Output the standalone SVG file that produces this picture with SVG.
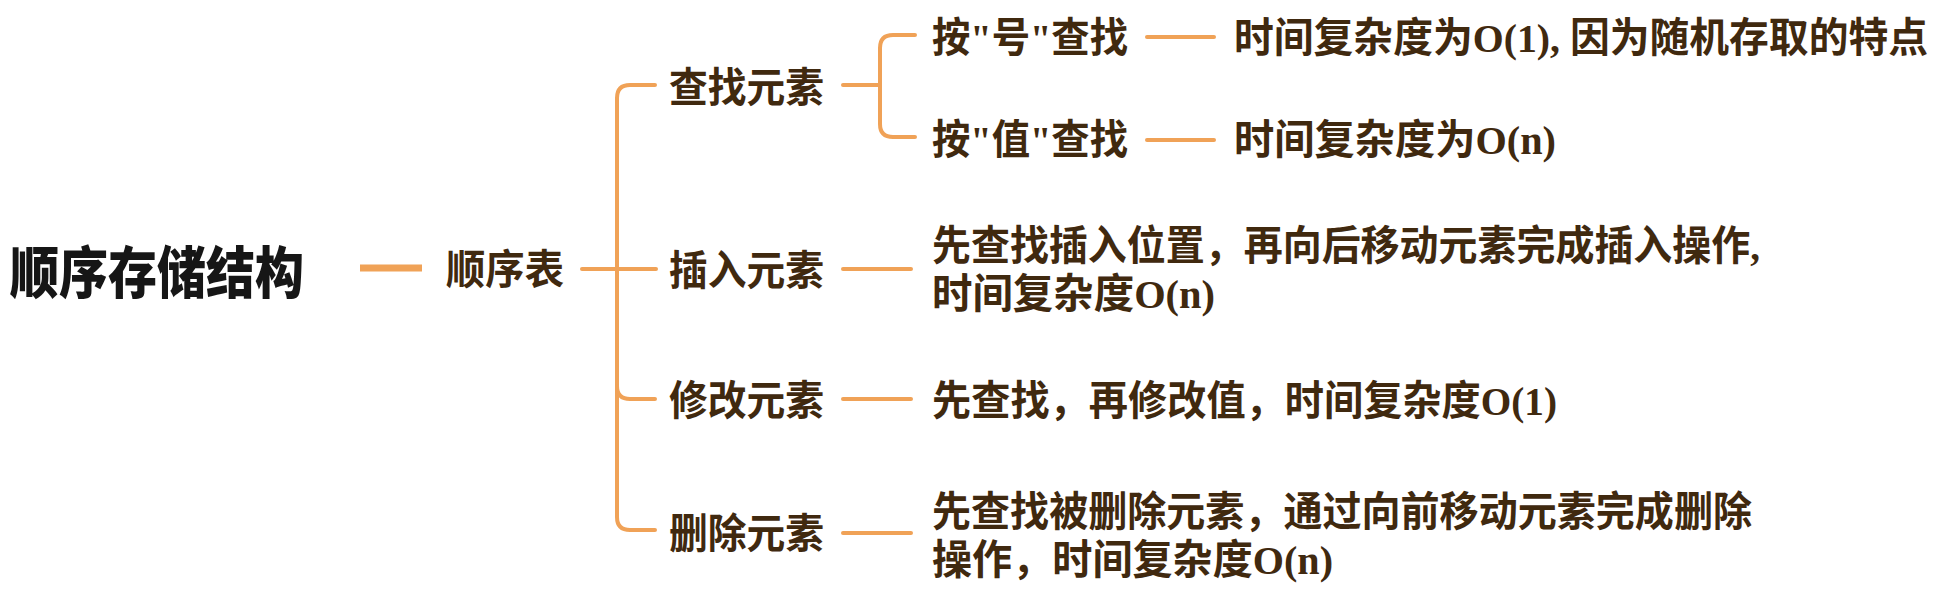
<svg xmlns="http://www.w3.org/2000/svg" width="1944" height="594" viewBox="0 0 1944 594">
<style>
.ln{fill:none;stroke:#F0A257;stroke-width:4;stroke-linecap:round;stroke-linejoin:round}
.thick{stroke-width:7;stroke-linecap:butt}
.t{font-family:"Liberation Serif","Noto Sans CJK SC",sans-serif;font-weight:bold;fill:#40290f;dominant-baseline:central}
.root{font-family:"Noto Sans CJK SC",sans-serif;font-weight:900;fill:#161616;font-size:56px;dominant-baseline:central}
.n{font-size:41px}
.d{font-size:41px}
</style>
<rect width="1944" height="594" fill="#ffffff"/>
<g id="connectors">
<path class="ln thick" d="M360 268H422"/>
<path class="ln" d="M582 269H656"/>
<path class="ln" d="M655 85H630Q617 85 617 98V517Q617 530 630 530H655"/>
<path class="ln" d="M617 386Q617 399 630 399H655"/>
<path class="ln" d="M843 85H880"/>
<path class="ln" d="M915 35H893Q880 35 880 48V124Q880 137 893 137H915"/>
<path class="ln" d="M1147 37H1214"/>
<path class="ln" d="M1147 140H1214"/>
<path class="ln" d="M843 269H911"/>
<path class="ln" d="M843 399H911"/>
<path class="ln" d="M843 533H911"/>
</g>
<g id="node-root"><text class="root" x="10" y="268" textLength="294" lengthAdjust="spacingAndGlyphs">顺序存储结构</text></g>
<g id="node-shunxubiao"><text class="t n" x="446" y="270" textLength="118" lengthAdjust="spacingAndGlyphs">顺序表</text></g>
<g id="node-find"><text class="t n" x="669" y="88" textLength="155" lengthAdjust="spacingAndGlyphs">查找元素</text></g>
<g id="node-insert"><text class="t n" x="669" y="271" textLength="155" lengthAdjust="spacingAndGlyphs">插入元素</text></g>
<g id="node-modify"><text class="t n" x="669" y="401" textLength="155" lengthAdjust="spacingAndGlyphs">修改元素</text></g>
<g id="node-delete"><text class="t n" x="669" y="534" textLength="155" lengthAdjust="spacingAndGlyphs">删除元素</text></g>
<g id="node-by-index"><text class="t n" x="932" y="38" textLength="196" lengthAdjust="spacingAndGlyphs">按"号"查找</text></g>
<g id="node-by-value"><text class="t n" x="932" y="140" textLength="196" lengthAdjust="spacingAndGlyphs">按"值"查找</text></g>
<g id="node-by-index-desc"><text class="t d" x="1234" y="38" textLength="694" lengthAdjust="spacingAndGlyphs">时间复杂度为O(1), 因为随机存取的特点</text></g>
<g id="node-by-value-desc"><text class="t d" x="1234" y="140" textLength="322" lengthAdjust="spacingAndGlyphs">时间复杂度为O(n)</text></g>
<g id="node-insert-desc">
<text class="t d" x="932" y="246" textLength="828" lengthAdjust="spacingAndGlyphs">先查找插入位置，再向后移动元素完成插入操作,</text>
<text class="t d" x="932" y="294" textLength="283" lengthAdjust="spacingAndGlyphs">时间复杂度O(n)</text>
</g>
<g id="node-modify-desc"><text class="t d" x="932" y="401" textLength="625" lengthAdjust="spacingAndGlyphs">先查找，再修改值，时间复杂度O(1)</text></g>
<g id="node-delete-desc">
<text class="t d" x="932" y="512" textLength="820" lengthAdjust="spacingAndGlyphs">先查找被删除元素，通过向前移动元素完成删除</text>
<text class="t d" x="932" y="560" textLength="401" lengthAdjust="spacingAndGlyphs">操作，时间复杂度O(n)</text>
</g>
</svg>
